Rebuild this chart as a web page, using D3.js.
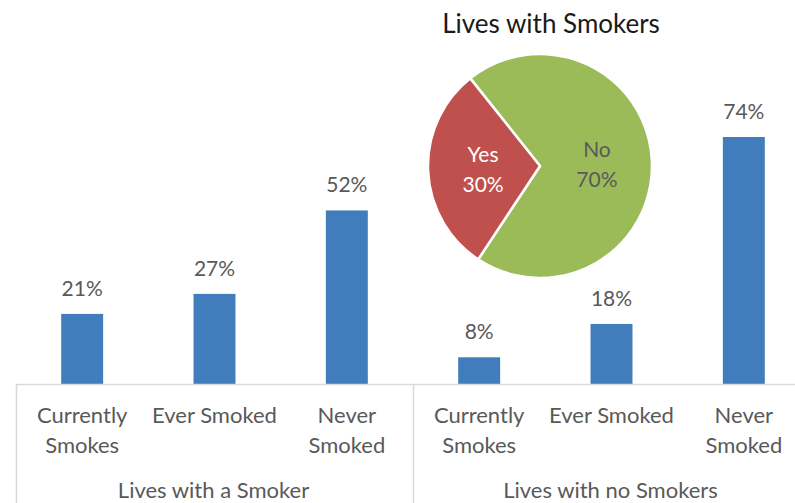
<!DOCTYPE html>
<html><head><meta charset="utf-8">
<script src="https://cdn.jsdelivr.net/npm/d3@7"></script>
<style>body{margin:0;background:#fff} svg{display:block}</style>
</head><body><svg id="c" width="795" height="503"></svg>
<script>
const groups = ["Lives with a Smoker", "Lives with no Smokers"];
const categories = ["Currently Smokes", "Ever Smoked", "Never Smoked"];
const categoryLines = [["Currently", "Smokes"], ["Ever Smoked"], ["Never", "Smoked"]];
const smokerValues = [0.21, 0.27, 0.52];
const noSmokerValues = [0.08, 0.18, 0.74];
const pieLabels = ["No", "Yes"];
const pieValues = [0.70, 0.30];
const pieTitle = "Lives with Smokers";

const FONT = "Lato, 'Open Sans', sans-serif";
const svg = d3.select("#c");
const W = 795, H = 503;
const plotLeft = 16, plotRight = 810, plotBase = 384, plotTop = 117;

const rows = [];
groups.forEach((g, gi) => {
  const vals = gi === 0 ? smokerValues : noSmokerValues;
  categories.forEach((c, ci) => rows.push({key: g + "|" + c, group: g, ci, value: vals[ci]}));
});

const gx = d3.scaleBand().domain(groups).range([plotLeft, plotRight]);
const x = d3.scaleBand().domain(rows.map(d => d.key)).range([plotLeft, plotRight]).paddingInner(0.683).paddingOuter(0.683 / 2);
const y = d3.scaleLinear().domain([0, 0.8]).range([plotBase, plotTop]);
const lineColor = "#d9d9d9";

// bars
svg.append("g").selectAll("rect").data(rows).join("rect")
  .attr("x", d => x(d.key)).attr("width", x.bandwidth())
  .attr("y", d => y(d.value)).attr("height", d => y(0) - y(d.value))
  .attr("fill", "#417cbd");

// value labels
svg.append("g").selectAll("text").data(rows).join("text")
  .attr("x", d => x(d.key) + x.bandwidth() / 2)
  .attr("y", d => y(d.value) - 18)
  .attr("text-anchor", "middle")
  .attr("font-family", FONT).attr("font-size", 21).attr("fill", "#595959")
  .text(d => d3.format(".0%")(d.value));

// axis lines
svg.append("line").attr("x1", plotLeft).attr("x2", W).attr("y1", plotBase + 0.5).attr("y2", plotBase + 0.5)
  .attr("stroke", lineColor).attr("stroke-width", 1.5);
groups.forEach(g => {
  const xx = Math.round(gx(g)) + 0.5;
  svg.append("line").attr("x1", xx).attr("x2", xx).attr("y1", plotBase).attr("y2", H)
    .attr("stroke", lineColor).attr("stroke-width", 1.5);
});

// category labels
const catG = svg.append("g").selectAll("text").data(rows).join("text")
  .attr("text-anchor", "middle")
  .attr("font-family", FONT).attr("font-size", 22).attr("fill", "#595959");
catG.each(function(d) {
  const t = d3.select(this);
  const cx = x(d.key) + x.bandwidth() / 2;
  categoryLines[d.ci].forEach((ln, i) => {
    t.append("tspan").attr("x", cx).attr("y", 423 + i * 30).text(ln);
  });
});

// group labels
svg.append("g").selectAll("text").data(groups).join("text")
  .attr("x", g => gx(g) + gx.bandwidth() / 2 - 1)
  .attr("y", 498)
  .attr("text-anchor", "middle")
  .attr("font-family", FONT).attr("font-size", 22).attr("fill", "#595959")
  .text(g => g);

// pie
const cx = 540, cy = 166, R = 112;
const pie = d3.pie().sort(null).value(d => d.v)
  .startAngle(-38.5 * Math.PI / 180).endAngle((360 - 38.5) * Math.PI / 180);
const pieData = pie(pieLabels.map((l, i) => ({l, v: pieValues[i]})));
const arc = d3.arc().innerRadius(0).outerRadius(R);
const labelArc = d3.arc().innerRadius(57).outerRadius(57);
const pg = svg.append("g").attr("transform", `translate(${cx},${cy})`);
const colors = {"No": "#9bbb59", "Yes": "#c0504d"};
pg.selectAll("path").data(pieData).join("path")
  .attr("d", arc).attr("fill", d => colors[d.data.l])
  .attr("stroke", "#fff").attr("stroke-width", 2.5).attr("stroke-linejoin", "round");
pg.selectAll("text").data(pieData).join("text")
  .attr("text-anchor", "middle")
  .attr("font-family", FONT).attr("font-size", 21)
  .attr("fill", d => d.data.l === "Yes" ? "#ffffff" : "#595959")
  .each(function(d) {
    const [px, py] = labelArc.centroid(d);
    const t = d3.select(this);
    t.append("tspan").attr("x", px).attr("y", py - 6.5).text(d.data.l);
    t.append("tspan").attr("x", px).attr("y", py + 23.5).text(d3.format(".0%")(d.data.v));
  });

svg.append("text").attr("x", 551).attr("y", 33).attr("text-anchor", "middle")
  .attr("font-family", FONT).attr("font-size", 26).attr("fill", "#1a1a1a")
  .text(pieTitle);
</script>
</body></html>
